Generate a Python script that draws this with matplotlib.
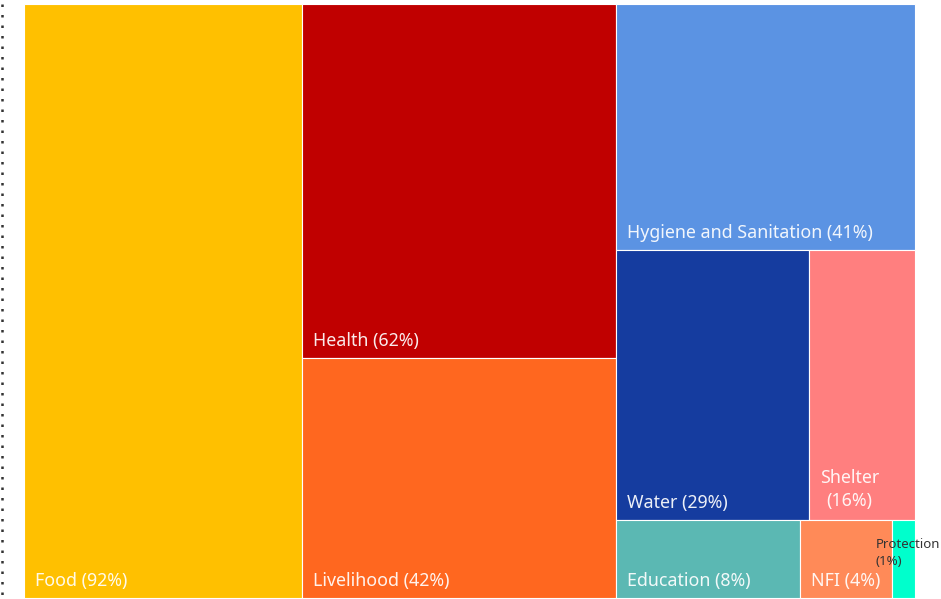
import matplotlib
matplotlib.use('Agg')
import matplotlib.pyplot as plt
from matplotlib.patches import Rectangle

# data: share of households reporting each need (%)
categories = ['Food', 'Health', 'Livelihood', 'Hygiene and Sanitation', 'Water',
              'Shelter', 'Education', 'NFI', 'Protection']
values = [92, 62, 42, 41, 29, 16, 8, 4, 1]
colors = ['#FFC000', '#C00000', '#FF671F', '#5B93E3', '#153C9F',
          '#FF7F7F', '#5BB8B3', '#FF8A58', '#00FFCC']
# number of cells in each strip of the treemap
strips = [1, 2, 1, 2, 1, 1, 1]


def layout(vals, groups, x, y, w, h):
    rects = []
    i = 0
    remaining = sum(vals)
    for n in groups:
        grp = vals[i:i + n]
        s = sum(grp)
        if w >= h:
            cw = w * s / remaining
            yy = y
            for v in grp:
                ch = h * v / s
                rects.append((x, yy, cw, ch))
                yy += ch
            x += cw
            w -= cw
        else:
            rh = h * s / remaining
            xx = x
            for v in grp:
                cw = w * v / s
                rects.append((xx, y, cw, rh))
                xx += cw
            y += rh
            h -= rh
        remaining -= s
        i += n
    return rects


fig = plt.figure(figsize=(9.41, 5.99), dpi=100)
ax = fig.add_axes([0, 0, 1, 1])
ax.set_xlim(0, 941)
ax.set_ylim(599, 0)
ax.axis('off')

# dotted line on the left
ax.plot([2.5, 2.5], [4, 599], color='#333333', lw=1.8,
        linestyle=(0, (1, 3.2)), dash_capstyle='butt')

rects = layout(values, strips, 24, 4, 891, 594)
fig.canvas.draw()
renderer = fig.canvas.get_renderer()

for (x, y, w, h), name, v, c in zip(rects, categories, values, colors):
    ax.add_patch(Rectangle((x, y), w, h, facecolor=c, edgecolor='white', lw=0.8))
    label = f'{name} ({v}%)'
    t = ax.text(x + 11, y + h - 12, label, color='white', alpha=0.92,
                fontsize=12.8, family='Noto Sans', va='baseline', ha='left')
    if t.get_window_extent(renderer).width > w - 16:
        t.set_text(label.replace(' (', '\n('))
        t.set_multialignment('center')
        t.set_linespacing(1.35)
        t.set_y(y + h - 14)
        if t.get_window_extent(renderer).width > w - 16:
            # too small: dark label that overflows the cell
            t.set_fontsize(9.5)
            t.set_color('#333333')
            t.set_alpha(1)
            t.set_multialignment('left')
            t.set_x(x - 16)
            t.set_y(y + h - 33)

fig.savefig('out.png', dpi=100)
